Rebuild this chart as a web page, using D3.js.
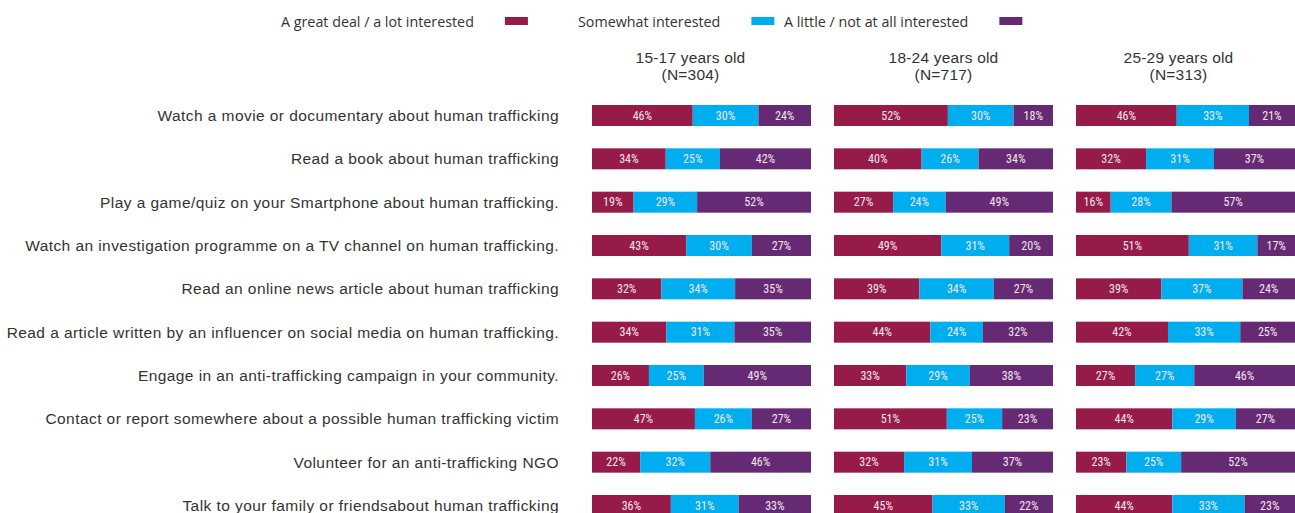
<!DOCTYPE html>
<html>
<head>
<meta charset="utf-8">
<script src="https://cdn.jsdelivr.net/npm/d3@7"></script>
<style>
  html, body { margin: 0; padding: 0; background: #fff; }
  svg { display: block; }
</style>
</head>
<body>
<svg id="chart" width="1295" height="513"></svg>
<script>
const categories = [
  "Watch a movie or documentary about human trafficking",
  "Read a book about human trafficking",
  "Play a game/quiz on your Smartphone about human trafficking.",
  "Watch an investigation programme on a TV channel on human trafficking.",
  "Read an online news article about human trafficking",
  "Read a article written by an influencer on social media on human trafficking.",
  "Engage in an anti-trafficking campaign in your community.",
  "Contact or report somewhere about a possible human trafficking victim",
  "Volunteer for an anti-trafficking NGO",
  "Talk to your family or friendsabout human trafficking"
];
const seriesNames = ["A great deal / a lot interested", "Somewhat interested", "A little / not at all interested"];
const ageGroups = ["15-17 years old", "18-24 years old", "25-29 years old"];
const sampleSizes = ["(N=304)", "(N=717)", "(N=313)"];

const greatDeal = [
  [46, 34, 19, 43, 32, 34, 26, 47, 22, 36],
  [52, 40, 27, 49, 39, 44, 33, 51, 32, 45],
  [46, 32, 16, 51, 39, 42, 27, 44, 23, 44]
];
const somewhat = [
  [30, 25, 29, 30, 34, 31, 25, 26, 32, 31],
  [30, 26, 24, 31, 34, 24, 29, 25, 31, 33],
  [33, 31, 28, 31, 37, 33, 27, 29, 25, 33]
];
const little = [
  [24, 42, 52, 27, 35, 35, 49, 27, 46, 33],
  [18, 34, 49, 20, 27, 32, 38, 23, 37, 22],
  [21, 37, 57, 17, 24, 25, 46, 27, 52, 23]
];

const colors = ["#971b48", "#00aeef", "#662a74"];
const keys = ["great", "somewhat", "little"];

const svg = d3.select("#chart");

// Layout
const panelX0 = 592, panelW = 219, panelGap = 23;
const headerOffsets = [-11, 0, -7];
const y = d3.scalePoint().domain(categories).range([115.5, 505.5]);
const barH = 21;

// Legend
const legendStarts = [281, 578, 784];
const legend = svg.append("g");
seriesNames.forEach((name, i) => {
  const t = legend.append("text")
    .attr("x", legendStarts[i]).attr("y", 27)
    .attr("font-family", "'Open Sans', 'Noto Sans', sans-serif")
    .attr("font-size", 14.3)
    .attr("fill", "#333")
    .text(name);
  const w = t.node().getComputedTextLength();
  legend.append("rect")
    .attr("x", legendStarts[i] + w + 31).attr("y", 17)
    .attr("width", 23).attr("height", 8)
    .attr("fill", colors[i]);
});

// Category labels
svg.append("g").selectAll("text").data(categories).join("text")
  .attr("x", 559).attr("y", d => y(d))
  .attr("dy", "0.35em")
  .attr("text-anchor", "end")
  .attr("font-family", "'Liberation Sans', Arial, sans-serif")
  .attr("font-size", 15.5)
  .attr("letter-spacing", 0.43)
  .attr("fill", "#333")
  .text(d => d);

// Panels
ageGroups.forEach((ag, p) => {
  const x0 = panelX0 + p * (panelW + panelGap);
  const x = d3.scaleLinear().domain([0, 1]).range([x0, x0 + panelW]);
  const rows = categories.map((c, i) => ({
    cat: c, great: greatDeal[p][i], somewhat: somewhat[p][i], little: little[p][i]
  }));
  const stacked = d3.stack().keys(keys).offset(d3.stackOffsetExpand)(rows);

  const g = svg.append("g");
  const cx = x0 + panelW / 2 + headerOffsets[p];
  [ag, sampleSizes[p]].forEach((txt, j) => {
    g.append("text").attr("x", cx).attr("y", 63 + j * 17)
      .attr("text-anchor", "middle")
      .attr("font-family", "'Liberation Sans', Arial, sans-serif")
      .attr("font-size", 15.5).attr("letter-spacing", 0.2).attr("fill", "#333")
      .text(txt);
  });

  stacked.forEach((layer, k) => {
    const lg = g.append("g");
    lg.selectAll("rect").data(layer).join("rect")
      .attr("x", d => x(d[0]))
      .attr("y", d => y(d.data.cat) - barH / 2)
      .attr("width", d => x(d[1]) - x(d[0]))
      .attr("height", barH)
      .attr("fill", colors[k]);
    lg.selectAll("text").data(layer).join("text")
      .attr("x", d => (x(d[0]) + x(d[1])) / 2)
      .attr("y", d => y(d.data.cat))
      .attr("dy", "0.35em")
      .attr("text-anchor", "middle")
      .attr("font-family", "'Liberation Sans Narrow', 'Roboto Condensed', Roboto, sans-serif")
      .attr("font-size", 12)
      .attr("fill", "#f3e6ee")
      .text(d => d.data[keys[k]] + "%");
  });
});
</script>
</body>
</html>
